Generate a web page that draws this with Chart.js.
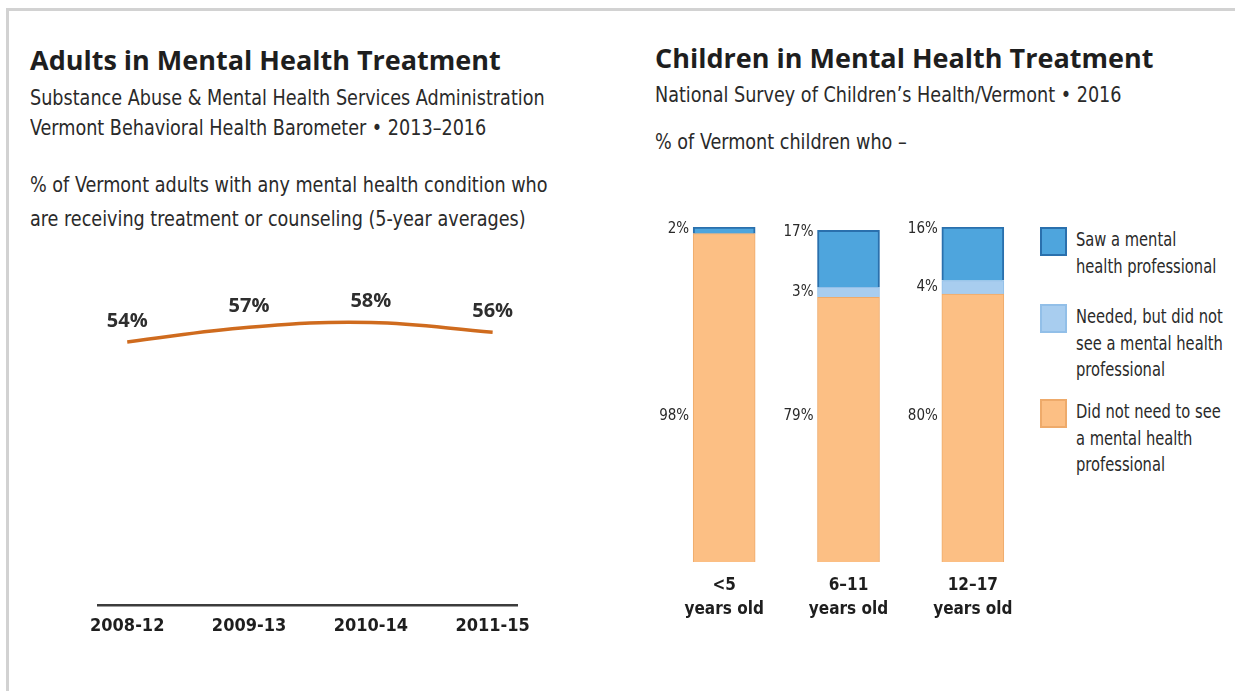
<!DOCTYPE html>
<html>
<head>
<meta charset="utf-8">
<script src="https://cdn.jsdelivr.net/npm/chart.js@4.4.0/dist/chart.umd.min.js"></script>
<style>
  html, body { margin: 0; padding: 0; background: #fff; }
  body { width: 1235px; height: 691px; position: relative; overflow: hidden; }
  .frame { position: absolute; left: 6px; top: 8px; width: 1240px; height: 700px;
           border-top: 3px solid #d2d2d2; border-left: 3px solid #d2d2d2; }
  .txt { position: absolute; white-space: nowrap; color: #2a2a2a; transform-origin: 0 50%; }
  .title { font-family: 'Open Sans', sans-serif; font-weight: 700; font-size: 27px; line-height: 32px; color: #1e1e1e; }
  .sub { font-family: 'DejaVu Sans Condensed', 'DejaVu Sans', sans-serif; font-size: 22px; line-height: 30px;
         transform: scaleX(0.89); }
  canvas { position: absolute; }
  #legend { position: absolute; left: 1040px; top: 227px; }
  .leg-item { position: absolute; left: 0; }
  .leg-box { position: absolute; left: 0; top: 0; width: 23px; height: 25px; border: 2px solid; }
  .leg-text { position: absolute; left: 36px; top: -1px; white-space: nowrap;
              font-family: 'DejaVu Sans Condensed', 'DejaVu Sans', sans-serif;
              font-size: 19px; line-height: 26.5px; color: #2a2a2a;
              transform: scaleX(0.86); transform-origin: 0 0; }
</style>
</head>
<body>
<div class="frame"></div>

<div class="txt title" style="left:30px; top:44px;">Adults in Mental Health Treatment</div>
<div class="txt sub" style="left:30px; top:83px;">Substance Abuse &amp; Mental Health Services Administration</div>
<div class="txt sub" style="left:30px; top:113px;">Vermont Behavioral Health Barometer • 2013–2016</div>
<div class="txt sub" style="left:30px; top:170px;">% of Vermont adults with any mental health condition who</div>
<div class="txt sub" style="left:30px; top:204px;">are receiving treatment or counseling (5-year averages)</div>

<div class="txt title" style="left:655px; top:42px;">Children in Mental Health Treatment</div>
<div class="txt sub" style="left:655px; top:80px;">National Survey of Children’s Health/Vermont • 2016</div>
<div class="txt sub" style="left:655px; top:127px;">% of Vermont children who –</div>

<canvas id="adultChart" width="500" height="420" style="left:60px; top:240px;"></canvas>
<canvas id="childChart" width="400" height="440" style="left:640px; top:200px;"></canvas>
<div id="legend"></div>

<script>
const NARROW = "'DejaVu Sans Condensed', 'DejaVu Sans', sans-serif";

// Adults: 5-year averages
const periods = ["2008-12", "2009-13", "2010-14", "2011-15"];
const adultPct = [54, 57, 58, 56];

// Children: stacked shares by age group
const ageGroups = [["<5", "years old"], ["6–11", "years old"], ["12–17", "years old"]];
const sawPro = [2, 17, 16];
const neededNotSeen = [0, 3, 4];
const didNotNeed = [98, 79, 80];
const seriesNames = [
    ["Saw a mental", "health professional"],
    ["Needed, but did not", "see a mental health", "professional"],
    ["Did not need to see", "a mental health", "professional"]
];

Chart.defaults.animation = false;
Chart.defaults.color = "#2a2a2a";

// value labels above the line points
const lineLabels = {
    id: "lineLabels",
    afterDatasetsDraw(chart) {
        const ctx = chart.ctx;
        const meta = chart.getDatasetMeta(0);
        ctx.save();
        ctx.font = "bold 20px 'Open Sans', sans-serif";
        ctx.fillStyle = "#2e2e2e";
        ctx.textAlign = "center";
        ctx.textBaseline = "middle";
        meta.data.forEach((pt, i) => {
            ctx.fillText(adultPct[i] + "%", pt.x, pt.y - 21);
        });
        ctx.restore();
    }
};

new Chart(document.getElementById("adultChart"), {
    type: "line",
    data: {
        datasets: [{
            data: adultPct.map((v, i) => ({ x: i, y: v })),
            borderColor: "#cf6b1e",
            borderWidth: 3.5,
            tension: 0.4,
            pointRadius: 0,
            fill: false
        }]
    },
    options: {
        responsive: false,
        layout: { padding: { left: 38, right: 43, top: 24, bottom: 15 } },
        plugins: { legend: { display: false }, tooltip: { enabled: false } },
        scales: {
            x: {
                type: "linear",
                min: -0.24,
                max: 3.2,
                grid: { display: false },
                border: { display: true, color: "#3c3c3c", width: 2.5 },
                afterBuildTicks: (scale) => { scale.ticks = periods.map((p, i) => ({ value: i })); },
                afterFit: (scale) => { scale.height = 40; },
                ticks: {
                    callback: (v) => periods[v],
                    padding: 3,
                    maxRotation: 0,
                    color: "#1e1e1e",
                    font: { family: NARROW, weight: "bold", size: 18 }
                }
            },
            y: { display: false, min: 0, max: 70 }
        }
    },
    plugins: [lineLabels]
});

// percentage labels to the left of each bar segment
const barLabels = {
    id: "barLabels",
    afterDatasetsDraw(chart) {
        const ctx = chart.ctx;
        const yScale = chart.scales.y;
        ctx.save();
        ctx.font = "15px " + NARROW;
        ctx.fillStyle = "#2a2a2a";
        ctx.textAlign = "right";
        ctx.textBaseline = "middle";
        chart.data.datasets.forEach((ds, di) => {
            chart.getDatasetMeta(di).data.forEach((bar, i) => {
                const v = ds.data[i];
                if (!v) return;
                const x = bar.x - bar.width / 2 - 4;
                let y;
                if (di === 2) y = bar.y + 2;
                else if (di === 1) y = (bar.y + bar.base) / 2;
                else y = yScale.getPixelForValue(43.5);
                ctx.fillText(v + "%", x, y);
            });
        });
        ctx.restore();
    }
};

const childChart = new Chart(document.getElementById("childChart"), {
    type: "bar",
    data: {
        labels: ageGroups,
        datasets: [
            { label: "Did not need", data: didNotNeed, backgroundColor: "#fcbf84", borderColor: "#eeaa6a", borderWidth: 1 },
            { label: "Needed", data: neededNotSeen, backgroundColor: "#a8cdef", borderColor: "#92bfe8", borderWidth: 1 },
            { label: "Saw", data: sawPro, backgroundColor: "#4ea5dd", borderColor: "#2a70ad", borderWidth: 2 }
        ]
    },
    options: {
        responsive: false,
        layout: { padding: { left: 22, right: 5, top: 27, bottom: 18 } },
        barThickness: 62,
        plugins: { legend: { display: false }, tooltip: { enabled: false } },
        scales: {
            x: {
                stacked: true,
                grid: { display: false },
                border: { display: false },
                afterFit: (scale) => { scale.height = 60; },
                ticks: {
                    padding: 3,
                    maxRotation: 0,
                    color: "#1e1e1e",
                    font: { family: NARROW, weight: "bold", size: 17, lineHeight: 1.45 }
                }
            },
            y: { stacked: true, display: false, min: 0, max: 100 }
        }
    },
    plugins: [barLabels]
});

// legend built from the chart's own dataset colours, top series first
const legendEl = document.getElementById("legend");
const legendTops = [0, 77, 172];
[2, 1, 0].forEach((di, k) => {
    const ds = childChart.data.datasets[di];
    const item = document.createElement("div");
    item.className = "leg-item";
    item.style.top = legendTops[k] + "px";
    const box = document.createElement("div");
    box.className = "leg-box";
    box.style.background = ds.backgroundColor;
    box.style.borderColor = ds.borderColor;
    const text = document.createElement("div");
    text.className = "leg-text";
    text.innerHTML = seriesNames[k].join("<br>");
    item.appendChild(box);
    item.appendChild(text);
    legendEl.appendChild(item);
});
</script>
</body>
</html>
